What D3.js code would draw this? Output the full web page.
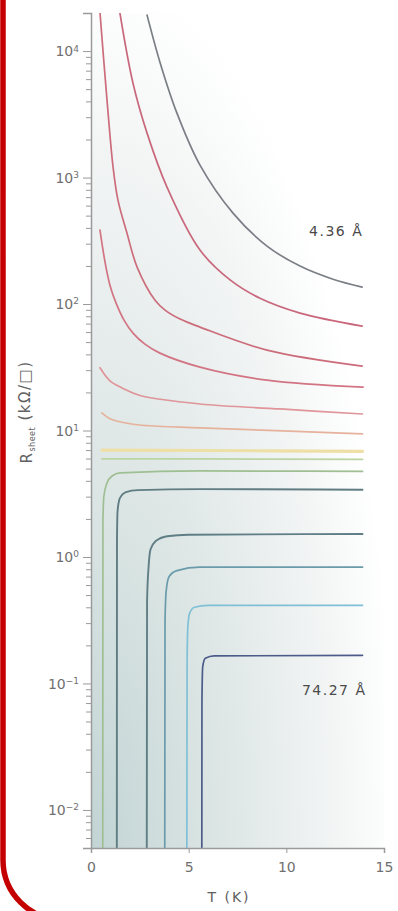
<!DOCTYPE html>
<html><head><meta charset="utf-8">
<script src="https://cdn.jsdelivr.net/npm/d3@7"></script>
<style>body{margin:0;background:#fff;}svg{display:block;}</style>
</head><body>
<svg id="chart" width="398" height="911"></svg>
<script>
// ---- data (T in K, R_sheet in kΩ/□) ----
const xTicks = [0, 5, 10, 15];
const yMajor = [1e-2, 1e-1, 1e0, 1e1, 1e2, 1e3, 1e4];
const yMajorLabels = ["−2", "−1", "0", "1", "2", "3", "4"];

// insulating side (thin films)
const s436 = [[2.87,19230],[3.53,8170],[4.40,3228],[5.58,1253],[7.27,523],[9.01,287],[10.7,199.5],[12.39,157],[13.88,136]];
const sRed1 = [[1.48,20000],[2.15,5570],[2.87,2245],[3.89,840],[5.58,267],[7.12,155],[8.65,111],[10.7,84.8],[13.88,66.9]];
const sRed2 = [[0.44,22000],[0.82,4090],[1.13,1208],[1.38,663],[1.84,364],[2.36,196],[3.28,107],[3.79,89.5],[4.56,76],[5.58,65.7],[9.01,43.2],[13.88,32.3]];
const sRed3 = [[0.46,384],[0.72,214],[0.97,141],[1.28,102],[1.69,74.6],[2.15,58.9],[2.76,48.2],[3.53,40.9],[5.58,31.7],[9.01,25.0],[13.93,22.0]];
const sPink = [[0.46,31.3],[0.97,24.7],[1.64,21.5],[2.51,18.9],[5.58,16.2],[9.7,14.8],[13.9,13.5]];
const sOrange = [[0.56,13.8],[0.97,12.4],[2.0,11.3],[3.0,10.9],[5.58,10.5],[13.9,9.4]];
const sYellow = [[0.56,7.0],[5.58,6.95],[13.9,6.85]];
const sLightGreen = [[0.56,5.96],[5.58,5.96],[13.9,5.92]];
// superconducting side (thick films)
const sGreen = [[0.60,0.001],[0.61,1.92],[0.66,3.03],[0.82,3.85],[1.08,4.37],[1.49,4.62],[5.58,4.79],[13.9,4.75]];
const sTeal1 = [[1.32,0.001],[1.33,1.33],[1.36,2.31],[1.48,2.92],[1.79,3.26],[2.4,3.38],[5.58,3.44],[13.9,3.40]];
const sTeal2 = [[2.85,0.001],[2.87,0.447],[2.95,0.846],[3.05,1.15],[3.3,1.33],[3.9,1.46],[5.0,1.50],[13.9,1.52]];
const sTeal3 = [[3.77,0.001],[3.79,0.31],[3.85,0.54],[4.0,0.70],[4.4,0.78],[5.58,0.83],[13.9,0.83]];
const sBlue = [[4.90,0.001],[4.92,0.149],[4.96,0.283],[5.05,0.36],[5.3,0.40],[6.0,0.415],[13.9,0.415]];
const s7427 = [[5.67,0.001],[5.68,0.072],[5.72,0.136],[5.85,0.158],[6.3,0.165],[13.9,0.167]];

const insulating = [s436, sRed1, sRed2, sRed3, sPink, sOrange, sYellow, sLightGreen];
const insulatingColors = ["#7a7f86","#c9687c","#cc6d7c","#d27483","#df9599","#e6b29c","#eedfa6","#bcd3a4"];
const insulatingWidths = [1.7,1.7,1.7,1.7,1.7,1.7,3.2,1.7];
const superconducting = [sGreen, sTeal1, sTeal2, sTeal3, sBlue, s7427];
const superColors = ["#9fbf92","#5f7d83","#5f7e86","#6a9bab","#80c0d6","#4d5b8a"];
const superWidths = [1.7,1.9,1.9,1.7,1.7,1.7];
const annotations = [{text:"4.36 Å", T:12.55, R:377}, {text:"74.27 Å", T:12.45, R:0.0887}];

// ---- layout ----
const svg = d3.select("#chart");
const font = "DejaVu Sans, sans-serif";
const x = d3.scaleLinear().domain([0, 15]).range([91, 384]);
const y = d3.scaleLog().domain([0.005, 20000]).range([848, 13]);

// red frame
svg.append("rect").attr("x", 3).attr("y", -80).attr("width", 560).attr("height", 1000)
  .attr("rx", 60).attr("ry", 60).attr("fill", "none").attr("stroke", "#c40000").attr("stroke-width", 5.5);

// background gradient
const defs = svg.append("defs");
const grad = defs.append("radialGradient").attr("id", "bg")
  .attr("cx", "0%").attr("cy", "100%").attr("r", "105%").attr("fx", "0%").attr("fy", "100%");
grad.append("stop").attr("offset", "0%").attr("stop-color", "#c2d4d4");
grad.append("stop").attr("offset", "45%").attr("stop-color", "#dee7e6");
grad.append("stop").attr("offset", "80%").attr("stop-color", "#f3f5f5");
grad.append("stop").attr("offset", "100%").attr("stop-color", "#ffffff");
defs.append("clipPath").attr("id", "clip").append("rect")
  .attr("x", x(0)).attr("y", y(20000)).attr("width", x(15) - x(0)).attr("height", y(0.005) - y(20000));

svg.append("rect").attr("x", x(0)).attr("y", y(20000)).attr("width", x(15) - x(0)).attr("height", y(0.005) - y(20000))
  .attr("fill", "url(#bg)");

// curves
const smoothLine = d3.line().x(d => x(d[0])).y(d => y(d[1])).curve(d3.curveCatmullRom.alpha(0.5));
const cornerLine = d3.line().x(d => x(d[0])).y(d => y(d[1])).curve(d3.curveMonotoneX);
const g = svg.append("g").attr("clip-path", "url(#clip)");
insulating.forEach((s, i) => {
  g.append("path").datum(s).attr("d", smoothLine).attr("fill", "none")
    .attr("stroke", insulatingColors[i]).attr("stroke-width", insulatingWidths[i]).attr("stroke-linecap", "round");
});
superconducting.forEach((s, i) => {
  g.append("path").datum(s).attr("d", cornerLine).attr("fill", "none")
    .attr("stroke", superColors[i]).attr("stroke-width", superWidths[i]).attr("stroke-linecap", "round");
});

// axes
const axisColor = "#9a9a9a", textColor = "#707070";
const xAxis = svg.append("g").attr("transform", `translate(0,${y(0.005)})`)
  .call(d3.axisBottom(x).tickValues(xTicks).tickSize(5).tickPadding(9).tickFormat(d3.format("d")));
const minor = [];
for (let e = -3; e <= 4; e++) for (let m = 2; m <= 9; m++) { const v = m * Math.pow(10, e); if (v >= 0.005 && v <= 20000) minor.push(v); }
const yMinorAxis = svg.append("g").attr("transform", `translate(${x(0)},0)`)
  .call(d3.axisLeft(y).tickValues(minor).tickSize(5).tickFormat(""));
const yAxis = svg.append("g").attr("transform", `translate(${x(0)},0)`)
  .call(d3.axisLeft(y).tickValues(yMajor).tickSize(8).tickPadding(3).tickFormat(""));
[xAxis, yAxis, yMinorAxis].forEach(a => {
  a.select(".domain").attr("stroke", axisColor).attr("stroke-width", 1.5);
  a.selectAll(".tick line").attr("stroke", axisColor).attr("stroke-width", 1);
});
yMinorAxis.select(".domain").remove();
xAxis.selectAll("text").attr("fill", textColor).attr("font-size", 14).attr("font-family", font);

// y major labels with superscripts
yAxis.selectAll(".tick").each(function(d, i) {
  const t = d3.select(this).append("text").attr("x", -12).attr("dy", "0.35em").attr("text-anchor", "end")
    .attr("fill", textColor).attr("font-size", 14).attr("font-family", font);
  t.append("tspan").text("10");
  t.append("tspan").attr("dy", "-0.55em").attr("font-size", 9).text(yMajorLabels[i]);
});

// axis titles
svg.append("text").attr("x", 229).attr("y", 902).attr("text-anchor", "middle").attr("letter-spacing", 2)
  .attr("fill", "#606060").attr("font-size", 14).attr("font-family", font).text("T (K)");
const yt = svg.append("text").attr("transform", "translate(32,412) rotate(-90)").attr("text-anchor", "middle")
  .attr("letter-spacing", 1.5).attr("fill", "#606060").attr("font-size", 15).attr("font-family", font);
yt.append("tspan").text("R");
yt.append("tspan").attr("dy", "0.35em").attr("font-size", 8).attr("letter-spacing", 0.5).text("sheet");
yt.append("tspan").attr("dy", "-0.35em").text(" (kΩ/□)");

// annotations
annotations.forEach(a => {
  svg.append("text").attr("x", x(a.T)).attr("y", y(a.R)).attr("dy", "0.35em").attr("text-anchor", "middle")
    .attr("letter-spacing", 1.5).attr("fill", "#4a4a4a").attr("font-size", 14).attr("font-family", font).text(a.text);
});
</script>
</body></html>
